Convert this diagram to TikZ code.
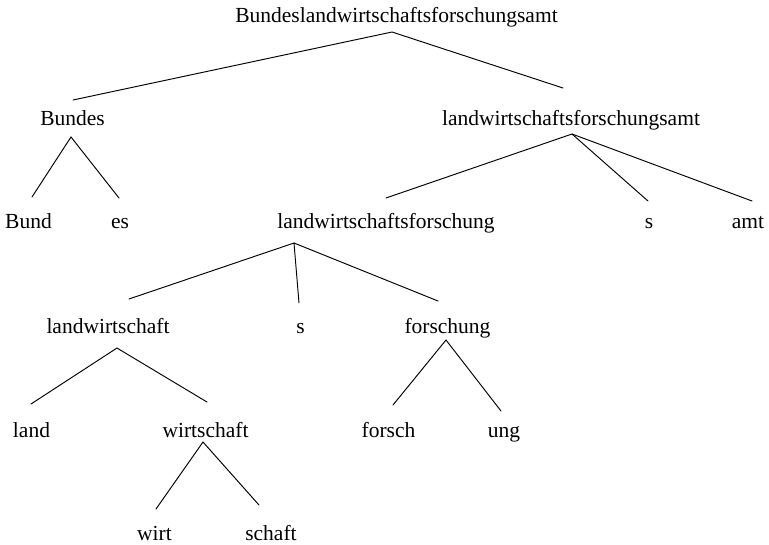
\documentclass[tikz,border=0pt]{standalone}
\usepackage{fontspec}
\setmainfont{Liberation Serif}
\begin{document}
\begin{tikzpicture}[x=1pt,y=-1pt,
  word/.style={anchor=base,inner sep=0pt,font=\fontsize{21.5}{24}\selectfont},
  branch/.style={line width=0.95pt,line cap=round}]
\useasboundingbox (0,0) rectangle (769,544);

% words, placed by centre and baseline
\node[word] (root) at (396.5,22) {Bundeslandwirtschaftsforschungsamt};
\node[word] (bundes) at (72.5,125) {Bundes};
\node[word] (lwfa) at (571,125) {landwirtschaftsforschungsamt};
\node[word] (bund) at (28.5,228) {Bund};
\node[word] (es) at (120,228) {es};
\node[word] (lwf) at (386,228) {landwirtschaftsforschung};
\node[word] (s1) at (649,228) {s};
\node[word] (amt) at (748,228) {amt};
\node[word] (lw) at (108,333) {landwirtschaft};
\node[word] (s2) at (300.5,333) {s};
\node[word] (fo) at (447.5,333) {forschung};
\node[word] (land) at (31.5,437) {land};
\node[word] (wi) at (205.5,437) {wirtschaft};
\node[word] (forsch) at (388.5,437) {forsch};
\node[word] (ung) at (504,437) {ung};
\node[word] (wirt) at (154.5,540) {wirt};
\node[word] (schaft) at (271,540) {schaft};

% branch points under each parent and tips above each child
\coordinate (root-v) at (392,32);
\coordinate (bundes-t) at (73,100);
\coordinate (lwfa-t) at (563,88);
\coordinate (bundes-v) at (71,137);
\coordinate (bund-t) at (32,197);
\coordinate (es-t) at (119,198);
\coordinate (lwfa-v) at (572,134);
\coordinate (lwf-t) at (386,198);
\coordinate (s1-t) at (648,201);
\coordinate (amt-t) at (752,201);
\coordinate (lwf-v) at (294,243);
\coordinate (lw-t) at (129,299);
\coordinate (s2-t) at (299,303);
\coordinate (fo-t) at (438,301);
\coordinate (lw-v) at (117,348);
\coordinate (land-t) at (31,404);
\coordinate (wi-t) at (207,402);
\coordinate (fo-v) at (446,340);
\coordinate (forsch-t) at (393,405);
\coordinate (ung-t) at (501,411);
\coordinate (wi-v) at (203,442);
\coordinate (wirt-t) at (156,509);
\coordinate (schaft-t) at (259,505);

% branches
\draw[branch] (bundes-t) -- (root-v) -- (lwfa-t);
\draw[branch] (bund-t) -- (bundes-v) -- (es-t);
\draw[branch] (lwf-t) -- (lwfa-v) -- (s1-t);
\draw[branch] (lwfa-v) -- (amt-t);
\draw[branch] (lw-t) -- (lwf-v) -- (s2-t);
\draw[branch] (lwf-v) -- (fo-t);
\draw[branch] (land-t) -- (lw-v) -- (wi-t);
\draw[branch] (forsch-t) -- (fo-v) -- (ung-t);
\draw[branch] (wirt-t) -- (wi-v) -- (schaft-t);
\end{tikzpicture}
\end{document}
